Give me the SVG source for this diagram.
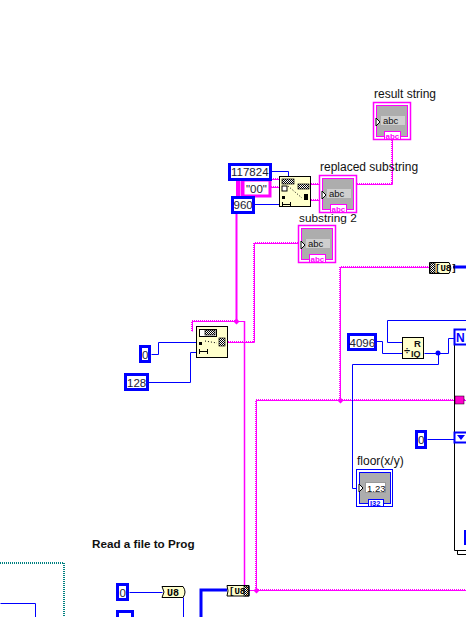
<svg xmlns="http://www.w3.org/2000/svg" width="466" height="617" viewBox="0 0 466 617">
<defs>
<pattern id="chk" width="2" height="2" patternUnits="userSpaceOnUse"><rect width="2" height="2" fill="#fff"/><rect width="1" height="1" fill="#000"/><rect x="1" y="1" width="1" height="1" fill="#000"/></pattern>
</defs>
<style>
text{font-family:"Liberation Sans",Arial,sans-serif;font-size:12px;fill:#111}
.num{font-size:11.5px;fill:#223}
.box{fill:#fff;stroke:#0000ff;stroke-width:3}
.b{fill:none;stroke:#0000ff;stroke-width:1}
.bt{fill:none;stroke:#0000ff;stroke-width:3}
.s{fill:none;stroke:#ff00ff;stroke-width:1}
.sd{fill:none;stroke:#ff00ff;stroke-width:2;stroke-dasharray:1 1}
.teal{fill:none;stroke:#008080;stroke-width:2;stroke-dasharray:1 1}
.fn{fill:#ffffcc;stroke:#000;stroke-width:1}
.ptag{fill:#fff;stroke:#ff00ff;stroke-width:1}
.pout{fill:#fff;stroke:#ff00ff;stroke-width:1.5}
.body{fill:#adadad}
.field{fill:#cfcfcf}
.abc{font-size:9.5px}
.tag{font-size:8px;fill:#ff00ff;font-weight:bold}
.tri{fill:#fff;stroke:#000;stroke-width:1}
.cast{fill:#ffffcc;stroke:#000;stroke-width:1}
.u{font-family:"Liberation Mono",monospace;font-size:9px;font-weight:bold;fill:#000}
.g{fill:#000;stroke:none}
.c{fill:url(#chk);stroke:#000;stroke-width:.7}
</style>
<g id="connectors">
<path class="sd" d="M228 342H254V243H300M392 140V184M311 184H319M357 184H392M311 200H319M271 179H279M271 187H279M192 331V321H236M256 590V400H466M340 400V267H430M256 590H466"/>
<g transform="translate(.5 .5)">
<path class="s" d="M192 331V321H244M228 342H254V243H300M392 140V184M311 184H319M357 184H392M311 200H319M271 179H279M271 187H279M256 590V400H466M340 400V267H430M244 590H466"/>
<path class="b" d="M271 171H288V176M254 204H279M151 354H158V342H196M148 382H190V352H196M376 341H382V353H402M402 342H387V320H466M424 353H448V338H454M438 353V364H352V488H358M427 439H454M129 592H162M183 597V617M0 603H35V617"/>
</g>
<path fill="none" stroke="#ff00ff" stroke-width="2" d="M236.500 213V321"/>
<path fill="none" stroke="#ff00ff" stroke-width="1.500" d="M244.500 321V590"/>
<path d="M238 180V196M242.500 180V197" fill="none" stroke="#ff00ff" stroke-width="4"/>
<path class="bt" d="M453 267H466M227 590H201V617"/>
<path class="teal" d="M0 563H64V617"/>
<circle cx="438" cy="353" r="2.500" fill="#0000ff"/>
<path d="M236.500 318.500l3 3-3 3-3-3zM340.500 397.500l3 3-3 3-3-3zM256.500 587.500l3 3-3 3-3-3z" fill="#ff00ff"/>
</g>
<g id="result-string">
<text x="374" y="98">result string</text>
<rect x="373.500" y="102.500" width="37" height="37" class="pout"/>
<rect x="376.500" y="105.500" width="31" height="31" class="body" stroke="#ff00ff"/>
<rect x="381" y="116" width="24" height="9" class="field"/>
<text class="abc" x="383" y="124">abc</text>
<path class="tri" d="M376 118l4 4-4 4z"/>
<rect x="384.500" y="131.500" width="16" height="8" class="ptag"/>
<text class="tag" x="385.500" y="139">abc</text>
</g>
<g id="replaced-substring">
<text x="320" y="171">replaced substring</text>
<rect x="319.500" y="175.500" width="37" height="37" class="pout"/>
<rect x="322.500" y="178.500" width="31" height="31" class="body" stroke="#ff00ff"/>
<rect x="327" y="189" width="24" height="9" class="field"/>
<text class="abc" x="329" y="197">abc</text>
<path class="tri" d="M322 191l4 4-4 4z"/>
<rect x="330.500" y="204.500" width="16" height="8" class="ptag"/>
<text class="tag" x="331.500" y="212">abc</text>
</g>
<g id="substring-2">
<text x="299" y="221.500" style="font-size:11.800px">substring 2</text>
<rect x="298.500" y="225.500" width="37" height="37" class="pout"/>
<rect x="301.500" y="228.500" width="31" height="31" class="body" stroke="#ff00ff"/>
<rect x="306" y="239" width="24" height="9" class="field"/>
<text class="abc" x="308" y="247">abc</text>
<path class="tri" d="M301 241l4 4-4 4z"/>
<rect x="309.500" y="254.500" width="16" height="8" class="ptag"/>
<text class="tag" x="310.500" y="262">abc</text>
</g>
<g id="const-00">
<rect x="243" y="180" width="27" height="16" fill="#fff" stroke="#ff00ff" stroke-width="3"/>
<text class="num" x="246" y="192.500">"00"</text>
</g>
<g id="const-117824">
<rect class="box" x="229.500" y="164.500" width="41" height="15"/>
<text class="num" x="231" y="176">117824</text>
</g>
<g id="const-960">
<rect class="box" x="232.500" y="197.500" width="21" height="15"/>
<text class="num" x="233.500" y="209">960</text>
</g>
<g id="replace-substring">
<rect class="fn" x="279.500" y="176.500" width="31" height="30"/>
<rect class="c" x="282" y="179" width="12" height="5"/>
<rect x="282" y="186" width="5" height="5" fill="#fff" stroke="#000"/>
<rect class="c" x="298" y="184" width="11" height="5"/>
<rect class="g" x="282" y="196" width="3" height="3"/>
<rect class="g" x="304" y="194" width="4" height="6"/>
<path d="M282 204.500h8M282.500 202v5M290.500 202v5" stroke="#000" fill="none"/>
<path d="M288 186l14 12" stroke="#000" stroke-dasharray="1 2" fill="none"/>
</g>
<g id="const-0-a">
<rect class="box" x="140.500" y="346.500" width="9" height="15"/>
<text class="num" x="142" y="358.500">0</text>
</g>
<g id="const-128">
<rect class="box" x="125.500" y="374.500" width="22" height="15"/>
<text class="num" x="127" y="386.500">128</text>
</g>
<g id="string-subset">
<rect class="fn" x="196.500" y="326.500" width="31" height="31"/>
<rect x="199.500" y="329.500" width="17" height="7" fill="#fff" stroke="#000"/>
<rect class="c" x="205" y="330" width="10" height="5"/>
<rect class="c" x="219" y="338" width="6" height="8"/>
<rect class="g" x="199" y="342" width="3" height="3"/>
<path d="M199 351.500h8M199.500 349v5M207.500 349v5" stroke="#000" fill="none"/>
<path d="M205 341l12 2" stroke="#000" stroke-dasharray="1 2" fill="none"/>
</g>
<g id="typecast-top">
<path class="cast" d="M429.500 262.500H449q3.500 5.500 0 11H429.500z"/>
<rect class="c" x="430" y="263" width="5" height="10"/>
<text class="u" x="435" y="271">[U8]</text>
</g>
<g id="const-4096">
<rect class="box" x="348.500" y="334.500" width="27" height="15"/>
<text class="num" x="349.500" y="346.500">4096</text>
</g>
<g id="quotient-remainder">
<rect class="fn" x="402.500" y="337.500" width="21" height="21"/>
<text x="404" y="354" style="font-size:11px;font-weight:bold">÷</text>
<text x="414" y="347" style="font-size:9.500px;font-weight:bold">R</text>
<text x="411" y="357" style="font-size:9px;font-weight:bold">IQ</text>
</g>
<g id="for-loop">
<path d="M454.500 345V550.500H466M457.500 551V554.500H466" fill="none" stroke="#000" stroke-width="1"/>
<rect x="454.500" y="329.500" width="14" height="15" fill="#fff" stroke="#0000ff" stroke-width="2"/>
<text x="456" y="342" style="font-weight:bold;fill:#0000ff">N</text>
<rect x="455" y="396" width="9" height="8" fill="#ff00cc" stroke="#000" stroke-width=".5"/>
<rect x="454.500" y="432.500" width="14" height="10" fill="#fff" stroke="#0000ff" stroke-width="2"/>
<path d="M457 435h8l-4 5z" fill="#0000ff"/>
<rect x="464" y="530" width="2" height="15" fill="#0000ff"/>
</g>
<g id="const-0-b">
<rect class="box" x="416.500" y="431.500" width="9" height="16"/>
<text class="num" x="418" y="444">0</text>
</g>
<g id="floor">
<text x="357" y="465">floor(x/y)</text>
<rect x="356.500" y="469.500" width="36" height="37" fill="#fff" stroke="#0000ff" stroke-width="1"/>
<rect x="359.500" y="472.500" width="31" height="31" class="body" stroke="#0000ff"/>
<rect x="365.500" y="482.500" width="20" height="10" fill="#fff" stroke="#999"/>
<text x="367" y="491.500" style="font-size:9.500px">1.23</text>
<path class="tri" d="M359 484l4 4-4 4z"/>
<rect x="368.500" y="499.500" width="15" height="7" fill="#fff" stroke="#0000ff"/>
<text x="370" y="506" style="font-size:7.500px;font-weight:bold;fill:#0000ff">I32</text>
</g>
<g id="read-label">
<text x="92" y="548" style="font-weight:bold;font-size:11.700px">Read a file to Prog</text>
</g>
<g id="const-0-c">
<rect class="box" x="117.500" y="584.500" width="10" height="15"/>
<text class="num" x="119.500" y="596.500">0</text>
</g>
<g id="const-partial">
<rect class="box" x="117.500" y="611.500" width="15" height="15"/>
</g>
<g id="to-u8">
<path class="cast" d="M162 586.500H183q4 5.500 0 11H162l2-5.500z"/>
<text class="u" x="167" y="595.500" style="font-size:10px">U8</text>
</g>
<g id="typecast-bottom">
<path class="cast" d="M227 585.500H249V596H227q2-5 0-10.500z"/>
<rect class="c" x="244" y="586" width="5" height="10"/>
<text class="u" x="229" y="594">[U8]</text>
</g>
</svg>
